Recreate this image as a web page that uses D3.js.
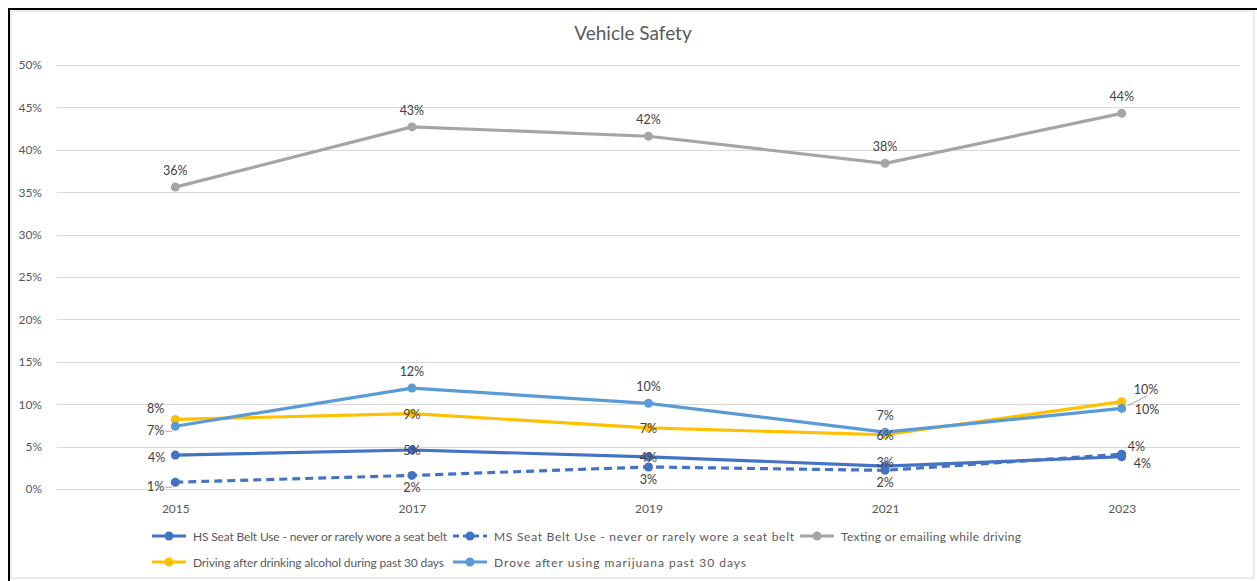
<!DOCTYPE html>
<html>
<head>
<meta charset="utf-8">
<script src="https://cdn.jsdelivr.net/npm/d3@7"></script>
<style>
  body { margin: 0; background: #fff; }
  text { font-family: Lato, "Open Sans", sans-serif; fill: #595959; }
</style>
</head>
<body>
<svg id="chart"></svg>
<script>
// Chart size matches the screenshot window.
const SVG_WIDTH = 1257;
const SVG_HEIGHT = 581;

const years = ['2015', '2017', '2019', '2021', '2023'];
const yTicks = [0, 0.05, 0.10, 0.15, 0.20, 0.25, 0.30, 0.35, 0.40, 0.45, 0.50];

// values
const hsSeatBelt = [0.040, 0.046, 0.038, 0.027, 0.038];
const msSeatBelt = [0.008, 0.016, 0.026, 0.022, 0.041];
const texting = [0.356, 0.427, 0.416, 0.384, 0.443];
const alcohol = [0.082, 0.089, 0.072, 0.064, 0.103];
const marijuana = [0.074, 0.119, 0.101, 0.067, 0.095];

const seriesNames = [
  'HS Seat Belt Use - never or rarely wore a seat belt',
  'MS Seat Belt Use - never or rarely wore a seat belt',
  'Texting or emailing while driving',
  'Driving after drinking alcohol during past 30 days',
  'Drove after using marijuana past 30 days'
];

// where each data label sits relative to its point (Excel moved some by hand)
const labelPlace = [
  ['left', 'center', 'center', 'justAbove', 'rightBelow'],
  ['leftLead', 'below', 'below', 'below', 'rightAbove'],
  ['above', 'above', 'above', 'above', 'above'],
  ['aboveLeft', 'center', 'center', 'center', 'aboveRightLead'],
  ['leftLead', 'above', 'above', 'above', 'rightLead']
];

const series = [
  {name: seriesNames[0], values: hsSeatBelt, color: '#4472C4', dash: null},
  {name: seriesNames[1], values: msSeatBelt, color: '#4472C4', dash: '8,5'},
  {name: seriesNames[2], values: texting, color: '#A5A5A5', dash: null},
  {name: seriesNames[3], values: alcohol, color: '#FFC000', dash: null},
  {name: seriesNames[4], values: marijuana, color: '#5B9BD5', dash: null}
];

const plot = {left: 57, right: 1240, top: 65, bottom: 489};

const svg = d3.select('#chart')
  .attr('width', SVG_WIDTH)
  .attr('height', SVG_HEIGHT);

// outer frame: black top/left edge, light chart border inside
svg.append('rect')
  .attr('x', 11).attr('y', 11)
  .attr('width', 1243).attr('height', 567)
  .attr('fill', '#fff')
  .attr('stroke', '#d9d9d9');
svg.append('path')
  .attr('d', 'M9,581V9H1257')
  .attr('fill', 'none')
  .attr('stroke', '#000')
  .attr('stroke-width', 2);

const x = d3.scalePoint()
  .domain(years)
  .range([plot.left, plot.right])
  .padding(0.5);

const y = d3.scaleLinear()
  .domain([0, 0.5])
  .range([plot.bottom, plot.top]);

// gridlines
svg.append('g')
  .selectAll('line')
  .data(yTicks)
  .join('line')
  .attr('x1', plot.left)
  .attr('x2', plot.right)
  .attr('y1', d => Math.round(y(d)) + 0.5)
  .attr('y2', d => Math.round(y(d)) + 0.5)
  .attr('stroke', '#d9d9d9');

const yAxis = svg.append('g')
  .attr('transform', `translate(${plot.left - 12},0)`)
  .call(d3.axisLeft(y).tickValues(yTicks).tickFormat(d3.format('.0%')).tickSize(0));
yAxis.select('.domain').remove();
yAxis.selectAll('text')
  .attr('font-size', 12)
  .attr('dx', 0)
  .style('font-family', 'Lato, sans-serif')
  .style('fill', '#595959');

const xAxis = svg.append('g')
  .attr('transform', `translate(0,${plot.bottom + 12})`)
  .call(d3.axisBottom(x).tickSize(0));
xAxis.select('.domain').remove();
xAxis.selectAll('text')
  .attr('font-size', 12)
  .style('font-family', 'Lato, sans-serif')
  .style('fill', '#595959');

// title
svg.append('text')
  .attr('x', 633)
  .attr('y', 40)
  .attr('text-anchor', 'middle')
  .attr('font-size', 19)
  .text('Vehicle Safety');

const line = d3.line()
  .x((d, i) => x(years[i]))
  .y(d => y(d));

const groups = svg.append('g')
  .selectAll('g')
  .data(series)
  .join('g');

groups.append('path')
  .attr('d', d => line(d.values))
  .attr('fill', 'none')
  .attr('stroke', d => d.color)
  .attr('stroke-width', 3.2)
  .attr('stroke-dasharray', d => d.dash)
  .attr('stroke-linejoin', 'round');

groups.selectAll('circle')
  .data(d => d.values.map(v => ({v, color: d.color})))
  .join('circle')
  .attr('cx', (d, i) => x(years[i]))
  .attr('cy', d => y(d.v))
  .attr('r', 4.5)
  .attr('fill', d => d.color);

// data labels
const fmt = d3.format('.0%');
const offsets = {
  above: [0, -12, 'middle'],
  justAbove: [0, 1, 'middle'],
  below: [0, 17, 'middle'],
  center: [0, 5, 'middle'],
  left: [-10, 7, 'end'],
  leftLead: [-11, 9, 'end'],
  aboveLeft: [-11, -6, 'end'],
  rightBelow: [12, 11, 'start'],
  rightAbove: [6, -3, 'start'],
  rightLead: [13, 6, 'start'],
  aboveRightLead: [12, -8, 'start']
};

const labels = svg.append('g');
series.forEach((s, si) => {
  s.values.forEach((v, i) => {
    const px = x(years[i]);
    const py = y(v);
    const o = offsets[labelPlace[si][i]];
    labels.append('text')
      .attr('x', px + o[0])
      .attr('y', py + o[1])
      .attr('text-anchor', o[2])
      .attr('font-size', 12.5)
      .style('fill', '#404040')
      .text(fmt(v));
    if (labelPlace[si][i] === 'leftLead') {
      labels.append('line')
        .attr('x1', px - 10).attr('x2', px - 3)
        .attr('y1', py + 5).attr('y2', py + 5)
        .attr('stroke', '#a6a6a6');
    }
    if (labelPlace[si][i] === 'aboveRightLead') {
      labels.append('line')
        .attr('x1', px + 6).attr('x2', px + 26)
        .attr('y1', py + 4).attr('y2', py - 6)
        .attr('stroke', '#a6a6a6');
    }
  });
});

// legend
const legendItems = [
  {s: series[0], x: 152, y: 536, w: 254},
  {s: series[1], x: 453, y: 536, w: 300},
  {s: series[2], x: 800, y: 536, w: 180},
  {s: series[3], x: 152, y: 562, w: 251},
  {s: series[4], x: 453, y: 562, w: 252}
];

const legend = svg.append('g')
  .selectAll('g')
  .data(legendItems)
  .join('g')
  .attr('transform', d => `translate(${d.x},${d.y})`);

legend.append('line')
  .attr('x1', 0).attr('x2', 34)
  .attr('stroke', d => d.s.color)
  .attr('stroke-width', 3)
  .attr('stroke-dasharray', d => d.s.dash ? '6,4' : null);
legend.append('circle')
  .attr('cx', 17)
  .attr('r', 4.5)
  .attr('fill', d => d.s.color);
legend.append('text')
  .attr('x', 41)
  .attr('y', 4.5)
  .attr('font-size', 12)
  .attr('textLength', d => d.w)
  .text(d => d.s.name);
</script>
</body>
</html>
